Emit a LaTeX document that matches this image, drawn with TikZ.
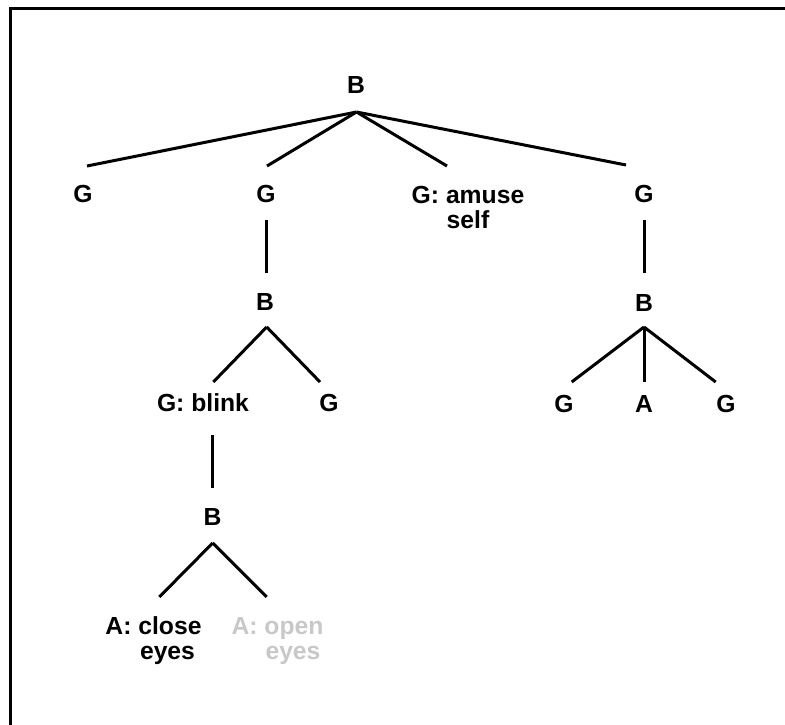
\documentclass[tikz,border=0pt]{standalone}
\usepackage{fontspec}
\setmainfont{Liberation Sans}
\definecolor{faded}{RGB}{200,200,200}
\tikzset{
  lbl/.style={inner sep=0pt, anchor=base, font=\fontsize{24.7}{25}\selectfont\bfseries},
  edge/.style={line width=3pt, line cap=butt},
  frame/.style={line width=3pt}
}
\begin{document}
\begin{tikzpicture}[x=1pt,y=-1pt]
  \useasboundingbox (0,0) rectangle (785,724);
  \begin{scope}
    \clip (0,0) rectangle (785,724);
    \draw[frame] (10.5,8) rectangle (820,760);
  \end{scope}

  % labels
  \node[lbl] (root) at (356,93) {B};
  \node[lbl] (g1) at (83,202) {G};
  \node[lbl] (g2) at (266,202) {G};
  \node[lbl] (amuse) at (468,203) {\begin{tabular}[t]{@{}c@{}}G: amuse\\self\end{tabular}};
  \node[lbl] (g4) at (644,202) {G};
  \node[lbl] (b2) at (265,310) {B};
  \node[lbl] (b4) at (644,311) {B};
  \node[lbl] (blink) at (203,411) {G: blink};
  \node[lbl] (g5) at (329,411) {G};
  \node[lbl] (g6) at (564,412) {G};
  \node[lbl] (a1) at (644,412) {A};
  \node[lbl] (g7) at (726,412) {G};
  \node[lbl] (b5) at (212.5,525) {B};
  \node[lbl] (close) at (153.5,634)
    {\begin{tabular}[t]{@{}c@{}}A: close\\\hspace*{28pt}eyes\end{tabular}};
  \node[lbl, text=faded] (open) at (277.5,634)
    {\begin{tabular}[t]{@{}c@{}}A: open\\\hspace*{31pt}eyes\end{tabular}};

  % connector end points
  \coordinate (rootfoot) at (356.5,112);
  \coordinate (g1head) at (87,166);
  \coordinate (g2head) at (267,166);
  \coordinate (amusehead) at (447,166);
  \coordinate (g4head) at (626,165);
  \coordinate (g2foot) at (266.5,220);
  \coordinate (b2head) at (266.5,273);
  \coordinate (b2foot) at (266.7,327);
  \coordinate (blinkhead) at (213.3,382);
  \coordinate (g5head) at (320,382);
  \coordinate (g4foot) at (644,220);
  \coordinate (b4head) at (644,273);
  \coordinate (b4foot) at (644,327);
  \coordinate (g6head) at (571.7,382);
  \coordinate (a1head) at (644,382);
  \coordinate (g7head) at (715.7,382);
  \coordinate (blinkfoot) at (212.7,435);
  \coordinate (b5head) at (212.7,488);
  \coordinate (b5foot) at (212.7,543);
  \coordinate (closehead) at (159.3,597);
  \coordinate (openhead) at (266.7,597);

  % connectors
  \draw[edge] (rootfoot) -- (g1head);
  \draw[edge] (rootfoot) -- (g2head);
  \draw[edge] (rootfoot) -- (amusehead);
  \draw[edge] (rootfoot) -- (g4head);
  \draw[edge] (g2foot) -- (b2head);
  \draw[edge] (b2foot) -- (blinkhead);
  \draw[edge] (b2foot) -- (g5head);
  \draw[edge] (g4foot) -- (b4head);
  \draw[edge] (b4foot) -- (g6head);
  \draw[edge] (b4foot) -- (a1head);
  \draw[edge] (b4foot) -- (g7head);
  \draw[edge] (blinkfoot) -- (b5head);
  \draw[edge] (b5foot) -- (closehead);
  \draw[edge] (b5foot) -- (openhead);
\end{tikzpicture}
\end{document}
